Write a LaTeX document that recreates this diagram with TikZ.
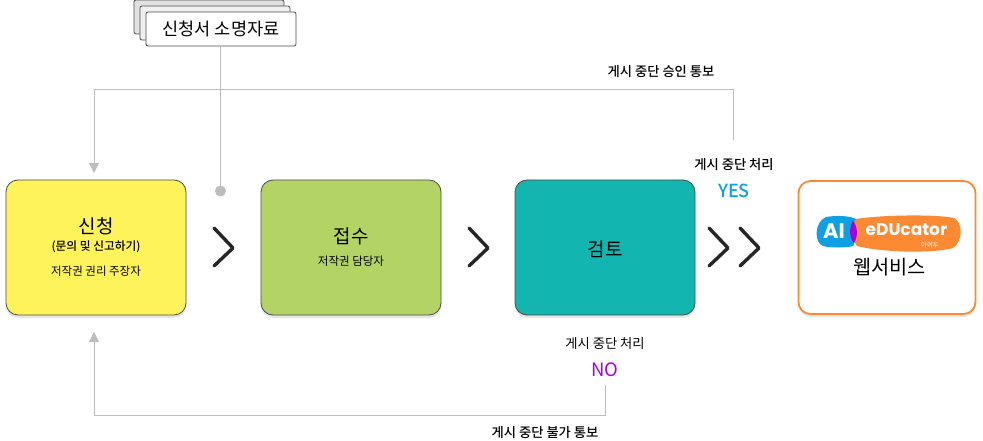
\documentclass[tikz,border=0pt]{standalone}
\usepackage{fontspec}
\setmainfont{Noto Sans CJK KR}
\newfontfamily\medfont{Noto Sans CJK KR Medium}
\newfontfamily\logofont{Poppins}
\usetikzlibrary{shadows,arrows.meta}
\definecolor{appyellow}{HTML}{FFF35C}
\definecolor{recvgreen}{HTML}{B3D465}
\definecolor{revteal}{HTML}{12B5B0}
\definecolor{weborange}{HTML}{FB8A32}
\definecolor{flowgray}{HTML}{BDBDBD}
\definecolor{yesblue}{HTML}{0F9FE3}
\definecolor{nopurple}{HTML}{A700DC}
\tikzset{
  stepbox/.style={draw=black!70, line width=0.8pt, rounded corners=12pt, minimum width=180pt, minimum height=135pt,
    align=center, inner sep=0pt, drop shadow={shadow xshift=0pt, shadow yshift=-3pt, opacity=0.2}},
  paper/.style={draw=black!70, line width=0.8pt, rounded corners=2pt, fill=white, minimum width=150pt, minimum height=34pt, inner sep=0pt},
  flow/.style={draw=flowgray, line width=0.8pt},
  chevron/.style={draw=black!85, line width=3.4pt, line cap=round, line join=round},
  tag/.style={font=\medfont\fontsize{13.3}{13.3}\selectfont, inner sep=0pt},
  sub/.style={font=\fontsize{11.5}{11.5}\selectfont, inner sep=0pt},
  big/.style={font=\fontsize{19}{19}\selectfont, inner sep=0pt}
}
\begin{document}
\begin{tikzpicture}[x=1pt,y=-1pt]
  \useasboundingbox (0,0) rectangle (983,441);

  % document stack
  \node[paper, fill=black!12] (docc) at (209,17) {};
  \node[paper, fill=black!6] (docb) at (215,23) {};
  \node[paper, font=\fontsize{17.5}{17.5}\selectfont] (doca) at (221,29) {신청서 소명자료};

  % main boxes
  \node[stepbox, fill=appyellow] (apply) at (96,247.5) {};
  \node[big] (applyt) at (96,226.5) {신청};
  \node[inner sep=0pt, font=\medfont\fontsize{11.7}{11.7}\selectfont] (applys) at (96,247) {(문의 및 신고하기)};
  \node[sub] (applyo) at (96,271) {저작권 권리 주장자};

  \node[stepbox, fill=recvgreen] (recv) at (351,247.5) {};
  \node[big] (recvt) at (351,236) {접수};
  \node[sub] (recvo) at (351,261) {저작권 담당자};

  \node[stepbox, fill=revteal] (review) at (605,247.5) {};
  \node[big] (reviewt) at (605,249) {검토};

  \node[stepbox, draw=weborange, line width=1.8pt, fill=white, minimum width=177pt, minimum height=133pt] (web) at (887,247.5) {};
  \node[inner sep=0pt, font=\fontsize{19.7}{19.7}\selectfont] (webt) at (889.5,267) {웹서비스};

  % logo
  \fill[yesblue] (826,217) .. controls (838,215) and (850,216) .. (856,219)
    .. controls (854,232) and (856,242) .. (853,246)
    .. controls (846,248) and (830,248) .. (823,246)
    .. controls (814,243) and (814,222) .. (826,217) -- cycle;
  \fill[weborange] (856,219) .. controls (880,215) and (935,214) .. (954,218)
    .. controls (963,222) and (963,242) .. (953,248)
    .. controls (930,254) and (880,252) .. (857,246)
    .. controls (851,238) and (851,226) .. (856,219) -- cycle;
  \fill[nopurple] (853,221) .. controls (858,227) and (858,237) .. (854,243)
    .. controls (849,238) and (849,227) .. (853,221) -- cycle;
  \node[inner sep=0pt, text=white, font=\logofont\bfseries\fontsize{21}{21}\selectfont] (logoa) at (834,231) {AI};
  \node[inner sep=0pt, text=white, font=\logofont\bfseries\fontsize{17}{17}\selectfont] (logob) at (906.5,230) {eDUcator};
  \node[inner sep=0pt, text=white, font=\fontsize{6.5}{6.5}\selectfont] (logoc) at (930,245.5) {아이두};

  % chevrons between boxes
  \draw[chevron] (214,228) -- (233,248) -- (214,266);
  \draw[chevron] (469,228) -- (488,248) -- (469,266);
  \draw[chevron] (709,228) -- (728,248) -- (709,266);
  \draw[chevron] (740,228) -- (759,248) -- (740,266);

  % document line
  \node[circle, fill=flowgray, minimum size=11pt, inner sep=0pt] (dot) at (220.5,191) {};
  \draw[flow] (220,46) -- (220,191);

  % feedback lines
  \coordinate (yesend) at (733,140);
  \coordinate (noend) at (605,385);
  \coordinate (toptip) at (94,173);
  \coordinate (bottip) at (94,332);
  \draw[flow, -{Triangle[length=10pt,width=10pt]}] (yesend) -- (733,89) -- (94,89) -- (toptip);
  \draw[flow, -{Triangle[length=10pt,width=10pt]}] (noend) -- (605,415) -- (94,415) -- (bottip);

  % labels
  \node[tag] (okmsg) at (661,72) {게시 중단 승인 통보};
  \node[tag] (yeslbl) at (734,165) {게시 중단 처리};
  \node[inner sep=0pt, text=yesblue, font=\medfont\fontsize{18}{18}\selectfont] (yes) at (734,191) {YES};
  \node[tag, font=\fontsize{13.3}{13.3}\selectfont] (nolbl) at (605,343.5) {게시 중단 처리};
  \node[inner sep=0pt, text=nopurple, font=\fontsize{18.5}{18.5}\selectfont] (no) at (605,370) {NO};
  \node[tag] (failmsg) at (545,433) {게시 중단 불가 통보};
\end{tikzpicture}
\end{document}
